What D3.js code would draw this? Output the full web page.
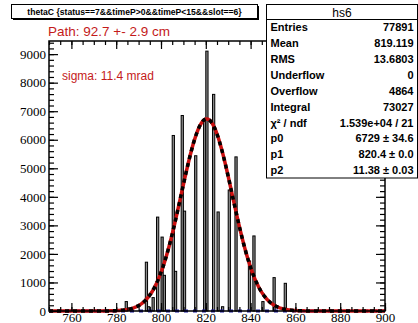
<!DOCTYPE html>
<html>
<head>
<meta charset="utf-8">
<script src="https://cdn.jsdelivr.net/npm/d3@7/dist/d3.min.js"></script>
<style>
  body { margin: 0; background: #fff; }
  svg { display: block; }
  .tick text { font-family: "Liberation Serif", serif; font-size: 13px; fill: #000; }
</style>
</head>
<body>
<svg id="chart" width="418" height="323"></svg>
<script>
// histogram bins (lower edge, width 1) and their counts
const binLow = [784, 793, 794, 796, 798, 800, 801, 805, 806, 809, 810, 815, 819, 820, 823, 825, 827, 830, 833, 839, 841, 845, 850, 855];
const counts = [330, 1710, 150, 470, 3290, 2590, 1250, 6150, 1390, 6850, 3500, 5440, 6740, 9105, 7590, 3470, 150, 4240, 5400, 1750, 2630, 330, 1170, 970];

// gaussian fit parameters
const fitParams = [6729, 820.4, 11.38];

const xTicks = [760, 780, 800, 820, 840, 860, 880, 900];
const yTicks = [0, 1000, 2000, 3000, 4000, 5000, 6000, 7000, 8000, 9000];

const statLabels = ['Entries', 'Mean', 'RMS', 'Underflow', 'Overflow', 'Integral', 'χ² / ndf', 'p0', 'p1', 'p2'];
const statValues = ['77891', '819.119', '13.6803', '0', '4864', '73027', '1.539e+04 / 21', '6729 ± 34.6', '820.4 ± 0.0', '11.38 ± 0.03'];

const frame = { left: 49, right: 385, top: 41, bottom: 311 };

const svg = d3.select('#chart');

const x = d3.scaleLinear().domain([750, 900]).range([frame.left, frame.right]);
const y = d3.scaleLinear().domain([0, 9460]).range([frame.bottom, frame.top]);

const bins = binLow.map((b, i) => ({ lo: b, hi: b + 1, n: counts[i] }));

// bars
svg.append('g')
  .selectAll('rect')
  .data(bins)
  .join('rect')
  .attr('x', (d) => x(d.lo))
  .attr('width', (d) => x(d.hi) - x(d.lo))
  .attr('y', (d) => y(d.n))
  .attr('height', (d) => y(0) - y(d.n))
  .attr('fill', '#8a8a8a')
  .attr('stroke', '#000')
  .attr('stroke-width', 1);

// fit curve
const gauss = (v) => fitParams[0] * Math.exp(-0.5 * Math.pow((v - fitParams[1]) / fitParams[2], 2));
const curvePts = d3.range(750, 900.01, 0.5).map((v) => [v, gauss(v)]);
const line = d3.line().x((d) => x(d[0])).y((d) => y(d[1]));

svg.append('line')
  .attr('x1', x(750)).attr('x2', x(900))
  .attr('y1', y(0)).attr('y2', y(0))
  .attr('stroke', '#1a1aa0')
  .attr('stroke-width', 3)
  .attr('stroke-dasharray', '4,5');

svg.append('path')
  .datum(curvePts)
  .attr('d', line)
  .attr('fill', 'none')
  .attr('stroke', '#cc1010')
  .attr('stroke-width', 3.5);

svg.append('path')
  .datum(curvePts)
  .attr('d', line)
  .attr('fill', 'none')
  .attr('stroke', '#000')
  .attr('stroke-width', 3.5)
  .attr('stroke-dasharray', '4,4');

// axes: ROOT style, ticks pointing inward on all four sides
const xMinor = d3.range(750, 900.01, 5);
const yMinor = d3.range(0, 9460, 200);

function axisTicks(axisFn, scale, major, minor, majorLen, minorLen, labels) {
  const g = svg.append('g');
  g.append('g').call(axisFn(scale).tickValues(minor).tickSize(-minorLen).tickFormat('')).call((s) => s.select('.domain').remove());
  const m = g.append('g').call(axisFn(scale).tickValues(major).tickSize(-majorLen).tickPadding(4).tickFormat(labels ? d3.format('d') : ''));
  m.select('.domain').remove();
  return g;
}

const bottom = axisTicks(d3.axisBottom, x, xTicks, xMinor, 8, 4, true)
  .attr('transform', `translate(0,${frame.bottom})`);
bottom.selectAll('.tick text').attr('dy', 0).attr('y', 10.5);

axisTicks(d3.axisTop, x, xTicks, xMinor, 8, 4, false)
  .attr('transform', `translate(0,${frame.top})`);

const left = axisTicks(d3.axisLeft, y, yTicks, yMinor, 9, 5, true)
  .attr('transform', `translate(${frame.left},0)`);
left.selectAll('.tick text').attr('x', -3);

axisTicks(d3.axisRight, y, yTicks, yMinor, 9, 5, false)
  .attr('transform', `translate(${frame.right},0)`);

svg.selectAll('.tick line').attr('stroke', '#000').attr('stroke-width', 1.2);

svg.append('rect')
  .attr('x', frame.left).attr('y', frame.top)
  .attr('width', frame.right - frame.left)
  .attr('height', frame.bottom - frame.top)
  .attr('fill', 'none')
  .attr('stroke', '#000')
  .attr('stroke-width', 1.5);

// annotations
svg.append('text')
  .attr('x', 48).attr('y', 36)
  .attr('font-family', 'Liberation Sans, Arial, sans-serif')
  .attr('font-size', 13.5)
  .attr('fill', '#c41a1a')
  .text('Path: 92.7 +- 2.9 cm');

svg.append('text')
  .attr('x', 62).attr('y', 80)
  .attr('font-family', 'Liberation Sans, Arial, sans-serif')
  .attr('font-size', 12)
  .attr('fill', '#c41a1a')
  .text('sigma: 11.4 mrad');

// title box with shadow
const title = svg.append('g');
title.append('rect').attr('x', 13).attr('y', 6).attr('width', 246).attr('height', 14).attr('fill', '#000');
title.append('rect').attr('x', 11.5).attr('y', 4.5).attr('width', 246).attr('height', 14)
  .attr('fill', '#fff').attr('stroke', '#000');
title.append('text')
  .attr('x', 134.5).attr('y', 15)
  .attr('text-anchor', 'middle')
  .attr('font-family', 'Liberation Sans, Arial, sans-serif')
  .attr('font-weight', 'bold')
  .attr('font-size', 8.6)
  .text('thetaC {status==7&&timeP>0&&timeP<15&&slot==6}');

// stats box
const box = { x: 266.5, y: 4.5, w: 151, h: 173.5, head: 15 };
const stats = svg.append('g');
stats.append('rect').attr('x', box.x).attr('y', box.y).attr('width', box.w).attr('height', box.h)
  .attr('fill', '#fff').attr('stroke', '#000');
stats.append('line').attr('x1', box.x).attr('x2', box.x + box.w)
  .attr('y1', box.y + box.head).attr('y2', box.y + box.head).attr('stroke', '#000');
stats.append('text')
  .attr('x', box.x + box.w / 2).attr('y', box.y + 12)
  .attr('text-anchor', 'middle')
  .attr('font-family', 'Liberation Sans, Arial, sans-serif')
  .attr('font-size', 12)
  .text('hs6');

const rowH = (box.h - box.head) / statLabels.length;
const rows = stats.selectAll('g.row')
  .data(statLabels.map((l, i) => ({ l, v: statValues[i] })))
  .join('g')
  .attr('class', 'row')
  .attr('transform', (d, i) => `translate(0,${box.y + box.head + rowH * (i + 0.5) + 4})`)
  .attr('font-family', 'Liberation Sans, Arial, sans-serif')
  .attr('font-size', 11)
  .attr('font-weight', 'bold');
rows.append('text').attr('x', box.x + 4).text((d) => d.l);
rows.append('text').attr('x', box.x + box.w - 4).attr('text-anchor', 'end').text((d) => d.v);
</script>
</body>
</html>
